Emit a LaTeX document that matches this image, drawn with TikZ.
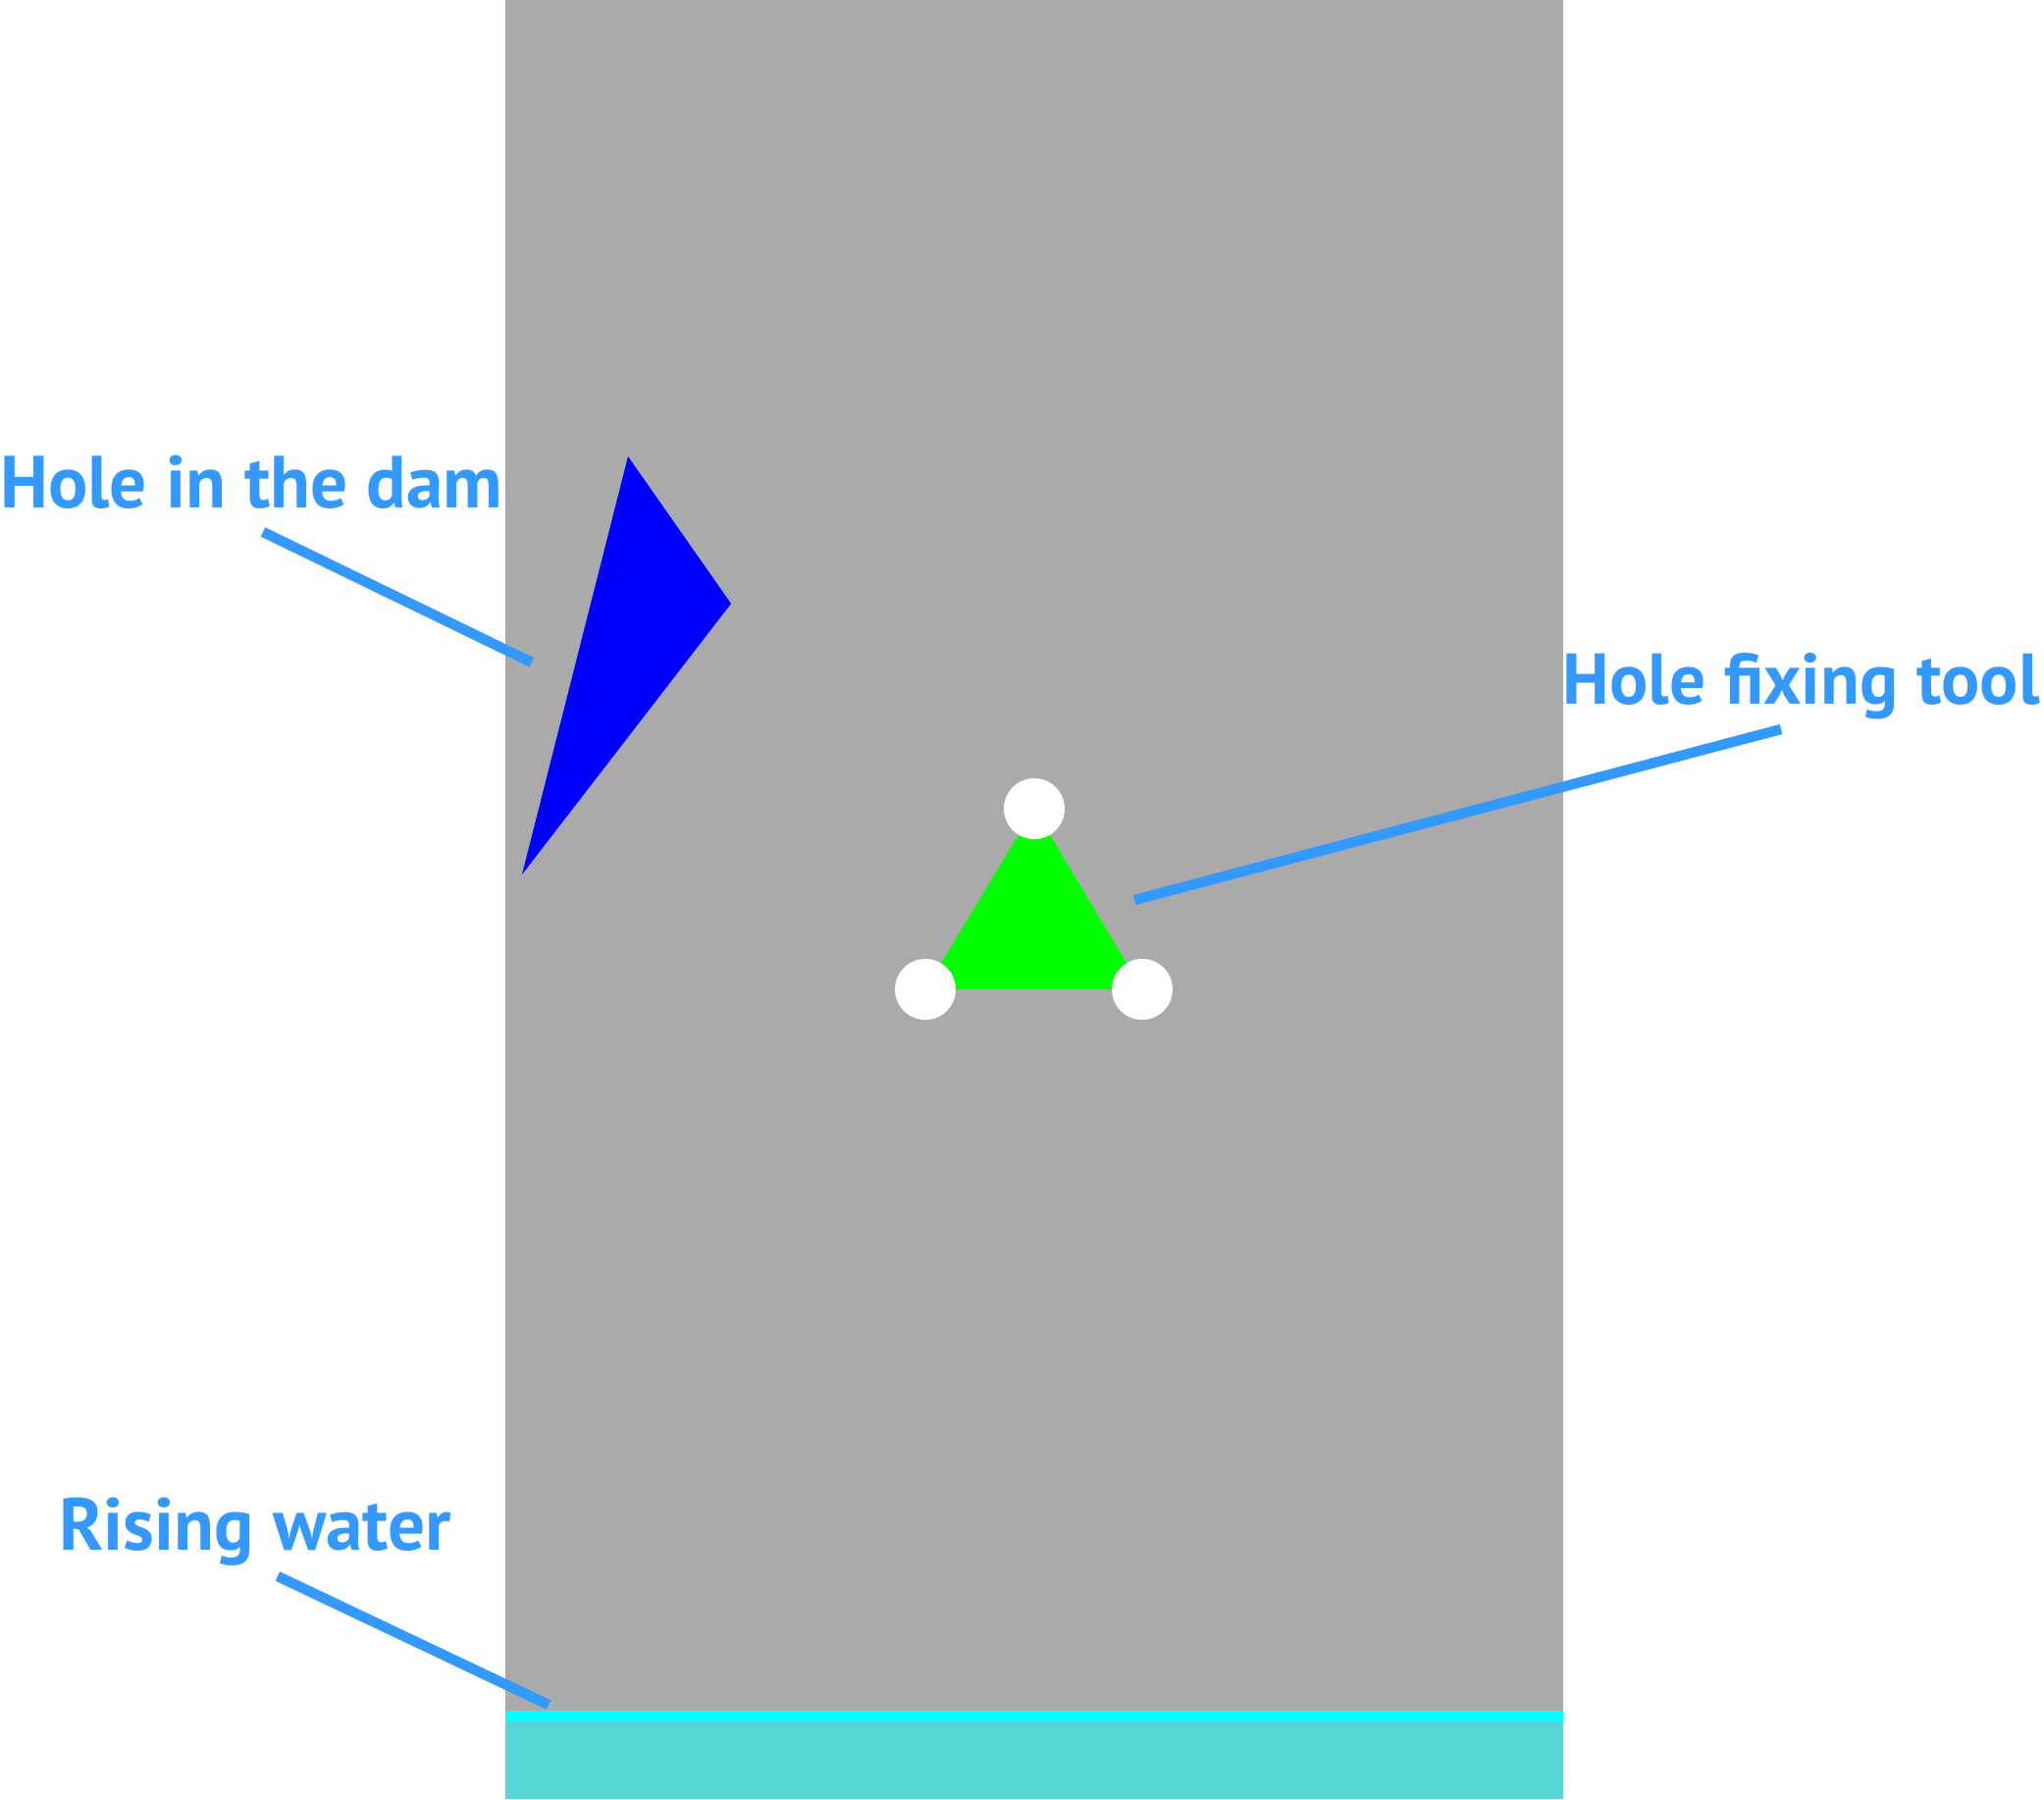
\documentclass[tikz,border=0pt]{standalone}
\usepackage{fontspec}
\setmainfont{PT Sans}
\definecolor{damgray}{HTML}{AAAAAA}
\definecolor{holeblue}{HTML}{0000FF}
\definecolor{toolgreen}{HTML}{00FF00}
\definecolor{cyanline}{HTML}{00FFFF}
\definecolor{water}{HTML}{55D5D5}
\definecolor{labelblue}{HTML}{3399FF}
\begin{document}
\begin{tikzpicture}[x=0.5pt,y=-0.5pt,
  lbl/.style={text=labelblue, font=\bfseries\fontsize{37.6}{40}\selectfont, inner sep=0pt, anchor=base west},
  leader/.style={draw=labelblue, line width=5.2pt}]
\useasboundingbox (0,0) rectangle (2083,1833);
\fill[white] (0,0) rectangle (2083,1833);
% dam and water
\fill[damgray] (515,0) rectangle (1593,1743);
\fill[cyanline] (515,1743) rectangle (1593,1754);
\fill[water] (515,1754) rectangle (1593,1833);
% hole
\coordinate (h1) at (640,465);
\coordinate (h2) at (745,615);
\coordinate (h3) at (532,891);
\fill[holeblue] (h1) -- (h2) -- (h3) -- cycle;
% tool
\coordinate (g1) at (1054,824);
\coordinate (g2) at (943,1008);
\coordinate (g3) at (1164,1008);
\fill[toolgreen] (g1) -- (g2) -- (g3) -- cycle;
\fill[white] (g1) circle[radius=31];
\fill[white] (g2) circle[radius=31];
\fill[white] (g3) circle[radius=31];
% labels
\node[lbl] (holelbl) at (0,517) {Hole in the dam};
\node[lbl, anchor=base east, font=\bfseries\fontsize{36.6}{40}\selectfont] (toollbl) at (2079,717) {Hole fixing tool};
\node[lbl] (waterlbl) at (60,1579) {Rising water};
% leaders
\coordinate (holeA) at (268,542);
\coordinate (holeB) at (542,675);
\coordinate (toolA) at (1815,743);
\coordinate (toolB) at (1156,917);
\coordinate (waterA) at (283,1606);
\coordinate (waterB) at (559,1737);
\draw[leader] (holeA) -- (holeB);
\draw[leader] (toolA) -- (toolB);
\draw[leader] (waterA) -- (waterB);
\end{tikzpicture}
\end{document}
